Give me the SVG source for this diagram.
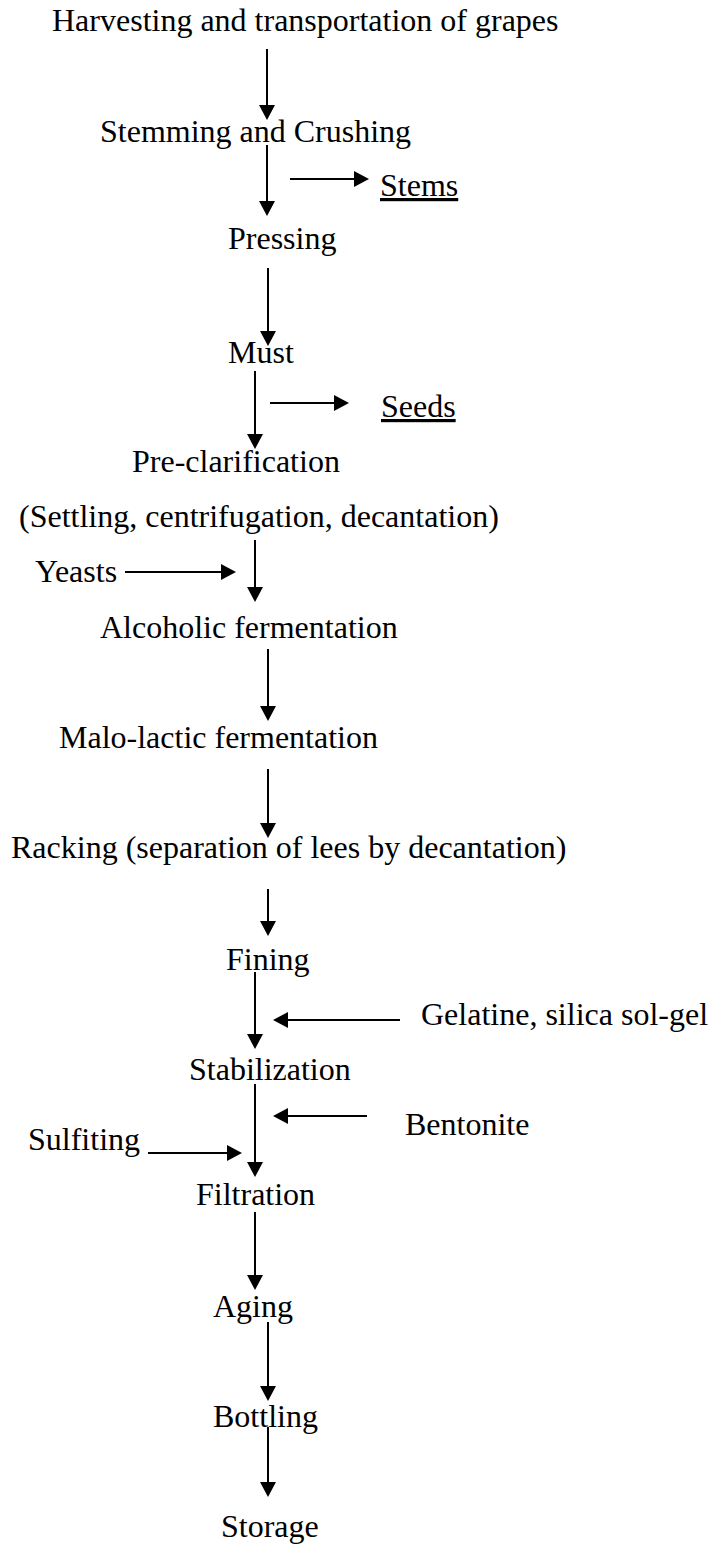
<svg xmlns="http://www.w3.org/2000/svg" width="710" height="1544" viewBox="0 0 710 1544">
<style>
text{font-family:"Liberation Serif","Times New Roman",serif;font-size:32px;fill:#000}
.u{text-decoration:underline}
.c line{stroke:#000;stroke-width:2;fill:none}
</style>
<defs>
<marker id="ah" markerUnits="userSpaceOnUse" markerWidth="16" markerHeight="16" refX="1" refY="8" orient="auto" viewBox="0 0 16 16">
<path d="M0,0 L15,8 L0,16 z" fill="#000"/>
</marker>
</defs>
<rect width="710" height="1544" fill="#fff"/>
<g id="n-harvest"><text x="52" y="31">Harvesting and transportation of grapes</text></g>
<g id="n-stemming"><text x="100" y="142">Stemming and Crushing</text></g>
<g id="n-stems"><text class="u" x="380" y="196">Stems</text></g>
<g id="n-pressing"><text x="228" y="249">Pressing</text></g>
<g id="n-must"><text x="228" y="363">Must</text></g>
<g id="n-seeds"><text class="u" x="381" y="417">Seeds</text></g>
<g id="n-preclar"><text x="132" y="472">Pre-clarification</text></g>
<g id="n-settling"><text x="19" y="527">(Settling, centrifugation, decantation)</text></g>
<g id="n-yeasts"><text x="35" y="582">Yeasts</text></g>
<g id="n-alcoholic"><text x="100" y="638">Alcoholic fermentation</text></g>
<g id="n-malo"><text x="59" y="748">Malo-lactic fermentation</text></g>
<g id="n-racking"><text x="11" y="858">Racking (separation of lees by decantation)</text></g>
<g id="n-fining"><text x="226" y="970">Fining</text></g>
<g id="n-gelatine"><text x="421" y="1025">Gelatine, silica sol-gel</text></g>
<g id="n-stab"><text x="189" y="1080">Stabilization</text></g>
<g id="n-bentonite"><text x="405" y="1135">Bentonite</text></g>
<g id="n-sulfiting"><text x="28" y="1150">Sulfiting</text></g>
<g id="n-filtration"><text x="196" y="1205">Filtration</text></g>
<g id="n-aging"><text x="213" y="1317">Aging</text></g>
<g id="n-bottling"><text x="213" y="1427">Bottling</text></g>
<g id="n-storage"><text x="221" y="1537">Storage</text></g>
<g id="connectors" class="c">
<line x1="267" y1="49" x2="267" y2="106" marker-end="url(#ah)"/>
<line x1="267" y1="145" x2="267" y2="202" marker-end="url(#ah)"/>
<line x1="290" y1="179" x2="355" y2="179" marker-end="url(#ah)"/>
<line x1="268" y1="268" x2="268" y2="332" marker-end="url(#ah)"/>
<line x1="255" y1="371" x2="255" y2="435" marker-end="url(#ah)"/>
<line x1="270" y1="403" x2="335" y2="403" marker-end="url(#ah)"/>
<line x1="255" y1="540" x2="255" y2="588" marker-end="url(#ah)"/>
<line x1="125" y1="572" x2="222" y2="572" marker-end="url(#ah)"/>
<line x1="268" y1="649" x2="268" y2="707" marker-end="url(#ah)"/>
<line x1="268" y1="769" x2="268" y2="824" marker-end="url(#ah)"/>
<line x1="268" y1="889" x2="268" y2="922" marker-end="url(#ah)"/>
<line x1="255" y1="972" x2="255" y2="1035" marker-end="url(#ah)"/>
<line x1="400" y1="1020" x2="287" y2="1020" marker-end="url(#ah)"/>
<line x1="255" y1="1084" x2="255" y2="1163" marker-end="url(#ah)"/>
<line x1="367" y1="1116" x2="287" y2="1116" marker-end="url(#ah)"/>
<line x1="148" y1="1153" x2="228" y2="1153" marker-end="url(#ah)"/>
<line x1="255" y1="1212" x2="255" y2="1276" marker-end="url(#ah)"/>
<line x1="268" y1="1322" x2="268" y2="1387" marker-end="url(#ah)"/>
<line x1="268" y1="1427" x2="268" y2="1483" marker-end="url(#ah)"/>
</g>
</svg>
